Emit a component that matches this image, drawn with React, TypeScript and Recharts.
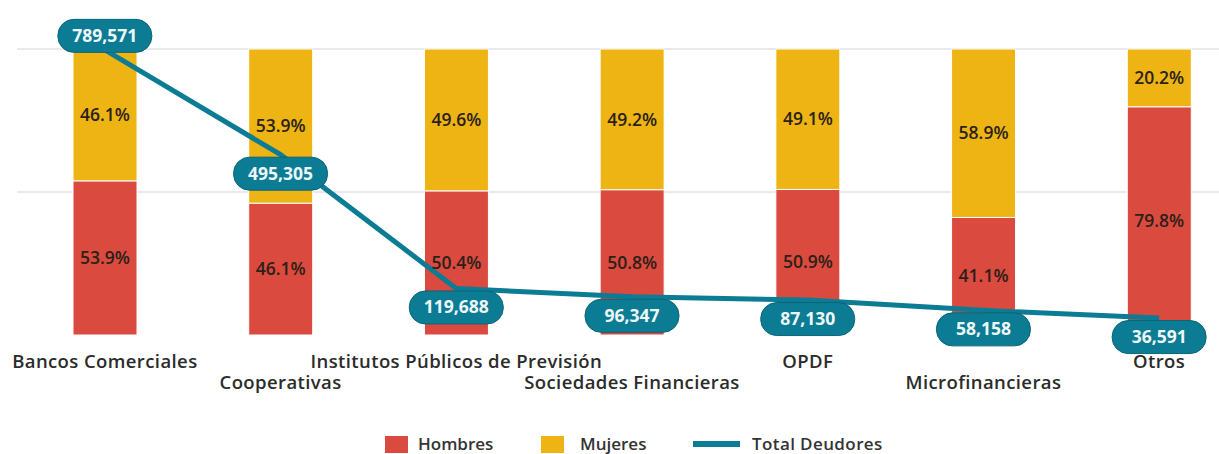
import { ComposedChart, Bar, Line, XAxis, YAxis, CartesianGrid, LabelList } from "recharts";

const categories = [
  "Bancos Comerciales",
  "Cooperativas",
  "Institutos Públicos de Previsión",
  "Sociedades Financieras",
  "OPDF",
  "Microfinancieras",
  "Otros",
];
const hombres = [53.9, 46.1, 50.4, 50.8, 50.9, 41.1, 79.8];
const mujeres = [46.1, 53.9, 49.6, 49.2, 49.1, 58.9, 20.2];
const totalDeudores = [789571, 495305, 119688, 96347, 87130, 58158, 36591];
const pctTicks = [50, 100];

const data = categories.map((name, i) => ({
  name,
  hombres: hombres[i],
  mujeres: mujeres[i],
  total: totalDeudores[i],
}));

const RED = "#db4a3f";
const YELLOW = "#edb413";
const TEAL = "#0b7c94";
const FONT = "'Open Sans', sans-serif";

function CategoryTick(props: any) {
  const { x, y, payload, index } = props;
  const dy = index % 2 === 0 ? 25 : 46;
  return (
    <text x={x} y={y} dy={dy} textAnchor="middle" fill="#2b2b2b" fontSize={18.5} fontWeight={600} letterSpacing={0.4} fontFamily={FONT}>
      {payload.value}
    </text>
  );
}

function TotalLabel(props: any) {
  const { x, y, value, index } = props;
  const cy = index === 0 ? y - 14 : y + 19;
  const w = 94;
  const h = 33;
  return (
    <g>
      <rect x={x - w / 2} y={cy - h / 2} width={w} height={h} rx={16} fill={TEAL} stroke="#0a6477" strokeWidth={1} />
      <text x={x} y={cy} dy={6} textAnchor="middle" fill="#eef7f8" fontSize={17.5} fontWeight={700} fontFamily={FONT}>
        {Number(value).toLocaleString("en-US")}
      </text>
    </g>
  );
}

const pctFormat = (v: any) => `${v}%`;

export default function App() {
  return (
    <div style={{ position: "absolute", left: 0, top: 0, width: 1219, height: 454, overflow: "hidden", background: "#fff" }}>
      <ComposedChart
        width={1260}
        height={454}
        data={data}
        margin={{ top: 49, left: 17, right: 13, bottom: 59 }}
      >
        <CartesianGrid yAxisId="pct" vertical={false} horizontalValues={pctTicks} stroke="#e2e2e2" strokeWidth={1.5} />
        <XAxis dataKey="name" height={60} axisLine={false} tickLine={false} interval={0} tick={<CategoryTick />} />
        <YAxis yAxisId="pct" domain={[0, 100]} ticks={pctTicks} hide />
        <YAxis yAxisId="tot" orientation="right" domain={[-11000, 792000]} hide />
        <Bar yAxisId="pct" dataKey="hombres" stackId="a" fill={RED} barSize={64} stroke="#fff" strokeWidth={1} isAnimationActive={false}>
          <LabelList dataKey="hombres" position="center" formatter={pctFormat} fill="#2a2118" fontSize={17.5} fontWeight={600} fontFamily={FONT} />
        </Bar>
        <Bar yAxisId="pct" dataKey="mujeres" stackId="a" fill={YELLOW} barSize={64} stroke="#fff" strokeWidth={1} isAnimationActive={false}>
          <LabelList dataKey="mujeres" position="center" formatter={pctFormat} fill="#2a2118" fontSize={17.5} fontWeight={600} fontFamily={FONT} />
        </Bar>
        <Line
          yAxisId="tot"
          type="linear"
          dataKey="total"
          stroke={TEAL}
          strokeWidth={5}
          dot={false}
          activeDot={false}
          isAnimationActive={false}
        >
          <LabelList dataKey="total" content={<TotalLabel />} />
        </Line>
      </ComposedChart>
      <div
        style={{
          position: "absolute",
          top: 434,
          left: 385,
          height: 20,
          lineHeight: "20px",
          display: "flex",
          alignItems: "center",
          fontFamily: FONT,
          fontSize: 17,
          fontWeight: 600,
          color: "#333",
        }}
      >
        <span style={{ width: 23, height: 17, background: RED, display: "inline-block" }} />
        <span style={{ marginLeft: 10, width: 123 }}>Hombres</span>
        <span style={{ width: 23, height: 17, background: YELLOW, display: "inline-block" }} />
        <span style={{ marginLeft: 16, width: 113 }}>Mujeres</span>
        <span style={{ width: 47, height: 6, background: TEAL, display: "inline-block" }} />
        <span style={{ marginLeft: 12, letterSpacing: 0.4 }}>Total Deudores</span>
      </div>
    </div>
  );
}
